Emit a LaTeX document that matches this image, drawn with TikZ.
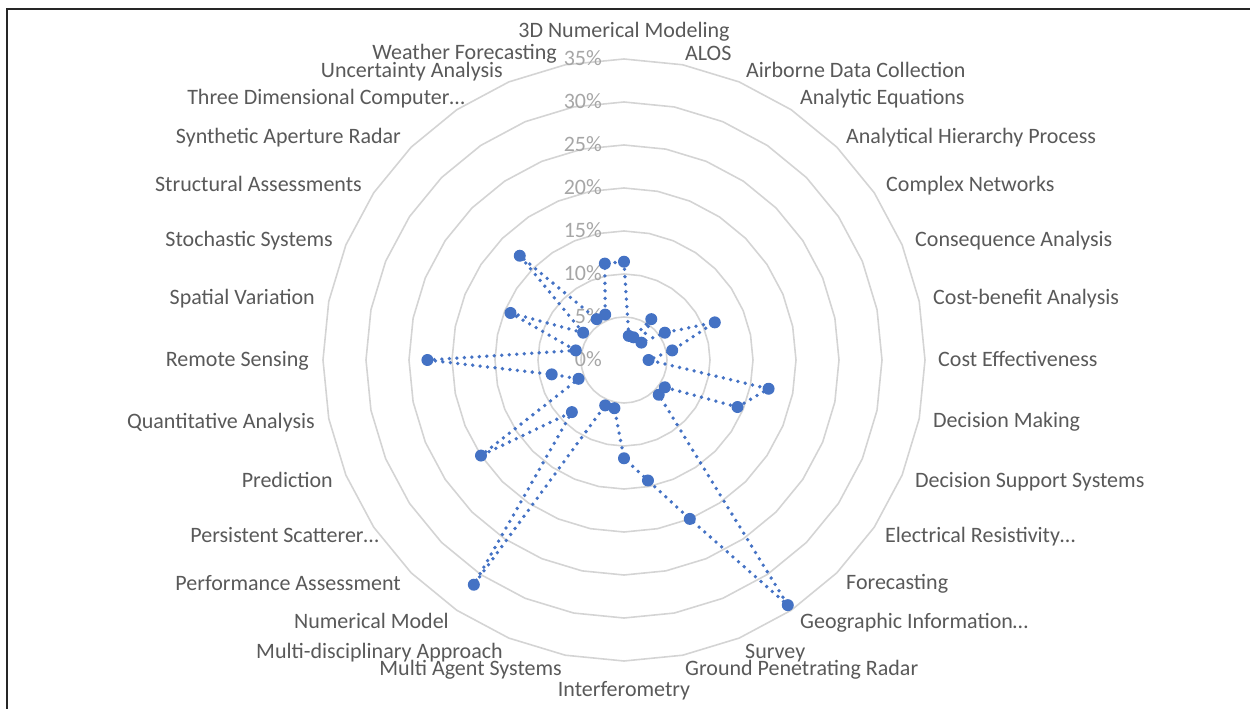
\documentclass[tikz,border=0pt]{standalone}
\usepackage{fontspec}
\setmainfont{Carlito}
\definecolor{seriesblue}{HTML}{4472C4}
\definecolor{labelgray}{HTML}{595959}
\definecolor{tickgray}{HTML}{A6A6A6}
\definecolor{ringgray}{HTML}{D4D4D4}

\begin{document}
\begin{tikzpicture}[x=1pt,y=1pt,
  ring/.style={ringgray,line width=1.6pt},
  catlabel/.style={text=labelgray,font=\fontsize{22}{26}\selectfont,inner sep=0pt,text height=14pt,text depth=0pt},
  ticklabel/.style={catlabel,text=tickgray},
  series/.style={seriesblue,line width=3.8pt,line cap=round,dash pattern=on 0pt off 7.5pt},
  marker/.style={fill=seriesblue}]
  \useasboundingbox (-624,-349) rectangle (626,360);
  % rahmen
  \draw[line width=1.5pt,black!85] (-617,-349) -- (-617,351) -- (626,351);

  % ringe im abstand von 5%
  \foreach \n in {1,...,7}
    \draw[ring] (90:{\n*43}) \foreach \i in {1,...,31} {-- ({90-\i*11.25}:{\n*43})} -- cycle;

  % achsenbeschriftung
  \foreach \n [evaluate=\n as \pc using int(5*\n)] in {0,...,7}
    \node[ticklabel,anchor=east] (tick\n) at (-22,{\n*43}) {\pc\%};

  % kategorien
  \foreach \lx/\ly/\anc/\txt [count=\n from 0] in {
      0/329/center/3D Numerical Modeling,
      61/306/west/ALOS,
      122/289/west/Airborne Data Collection,
      176/262/west/Analytic Equations,
      222/223/west/Analytical Hierarchy Process,
      262/175/west/Complex Networks,
      291/120/west/Consequence Analysis,
      309/62/west/Cost-benefit Analysis,
      314/0/west/Cost Effectiveness,
      309/-60/west/Decision Making,
      291/-120/west/Decision Support Systems,
      261/-175/west/Electrical Resistivity…,
      222/-222/west/Forecasting,
      176/-261/west/Geographic Information…,
      121/-291/west/Survey,
      61/-308/west/Ground Penetrating Radar,
      0/-329/center/Interferometry,
      -62/-308/east/Multi Agent Systems,
      -121/-291/east/Multi-disciplinary Approach,
      -175/-261/east/Numerical Model,
      -223/-223/east/Performance Assessment,
      -245/-175/east/Persistent Scatterer…,
      -291/-120/east/Prediction,
      -309/-61/east/Quantitative Analysis,
      -315/0/east/Remote Sensing,
      -309/62/east/Spatial Variation,
      -291/120/east/Stochastic Systems,
      -262/175/east/Structural Assessments,
      -223/223/east/Synthetic Aperture Radar,
      -159/262/east/Three Dimensional Computer…,
      -121/289/east/Uncertainty Analysis,
      -67/307/east/Weather Forecasting}
    \node[catlabel,anchor=\anc] (cat\n) at (\lx,\ly) {\txt};

  % datenreihe (anzahl, 1 = 100/35 %)
  \foreach \k [count=\i from 0] in {4,1,1,2,1,2,4,2,1,6,5,2,2,12,7,5,4,2,2,11,3,7,2,3,8,2,5,2,6,2,2,4}
    \coordinate (p\i) at ({90-\i*11.25}:{\k*301/12.25});
  \draw[series] (p0) \foreach \i in {1,...,31} {-- (p\i)} -- cycle;
  \foreach \i in {0,...,31}
    \fill[marker] (p\i) circle (6pt);
\end{tikzpicture}
\end{document}
